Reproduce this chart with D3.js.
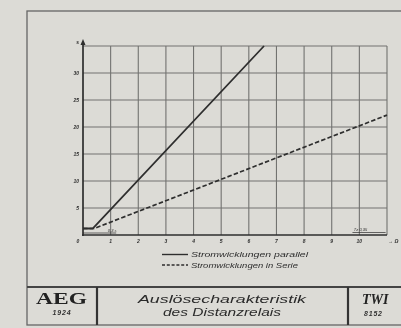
<!DOCTYPE html>
<html>
<head>
<meta charset="utf-8">
<script src="https://cdn.jsdelivr.net/npm/d3@7"></script>
<style>
  html, body { margin: 0; padding: 0; background: #dcdbd6; }
  svg { display: block; filter: blur(0.45px); }
</style>
</head>
<body>
<svg id="chart" width="401" height="328"></svg>
<script>
const xTicks = [1, 2, 3, 4, 5, 6, 7, 8, 9, 10];
const yTicks = [5, 10, 15, 20, 25, 30];
const xMax = 11;
const yMax = 35;
const xUnit = "Ω";
const yUnit = "s";

// Kennlinien: [Ohm, Sekunden]
const parallel = [[0, 1.2], [0.35, 1.2], [6.55, 35]];
const serie = [[0, 1.2], [0.4, 1.2], [11, 22.2]];

const legendLabels = ["Stromwicklungen parallel", "Stromwicklungen in Serie"];
const legendWidths = [117, 107];
const titleLines = ["Auslösecharakteristik", "des Distanzrelais"];
const titleWidths = [168, 118];

const svg = d3.select("#chart");
const ink = "#2e2e2e";
const grid = "#727270";

// Rahmen der Zeichnung
svg.append("rect")
  .attr("x", 27).attr("y", 11)
  .attr("width", 400).attr("height", 314)
  .attr("fill", "none").attr("stroke", "#666").attr("stroke-width", 1.3);

const x = d3.scaleLinear().domain([0, xMax]).range([83, 387]);
const y = d3.scaleLinear().domain([0, yMax]).range([235, 46]);

// Gitter
const g = svg.append("g");
g.selectAll("line.v")
  .data(d3.range(1, xMax + 1))
  .enter().append("line")
  .attr("x1", d => x(d)).attr("x2", d => x(d))
  .attr("y1", y(0)).attr("y2", y(yMax))
  .attr("stroke", grid).attr("stroke-width", 1.1);

g.selectAll("line.h")
  .data(d3.range(5, yMax + 1, 5))
  .enter().append("line")
  .attr("x1", x(0)).attr("x2", x(xMax))
  .attr("y1", d => y(d)).attr("y2", d => y(d))
  .attr("stroke", grid).attr("stroke-width", 1.1);

// Achsen
g.append("line")
  .attr("x1", x(0)).attr("x2", x(0))
  .attr("y1", y(0) + 1).attr("y2", y(yMax) - 2)
  .attr("stroke", ink).attr("stroke-width", 1.7);
g.append("line")
  .attr("x1", x(0) - 1).attr("x2", x(xMax))
  .attr("y1", y(0)).attr("y2", y(0))
  .attr("stroke", ink).attr("stroke-width", 1.7);
// Pfeil oben an der y-Achse
g.append("path")
  .attr("d", `M${x(0) - 2.5},${y(yMax) - 1} L${x(0)},${y(yMax) - 7} L${x(0) + 2.5},${y(yMax) - 1} Z`)
  .attr("fill", ink);

const tickFont = "bold italic 5px 'Liberation Sans', sans-serif";

// x-Beschriftung
g.selectAll("text.xt")
  .data(xTicks)
  .enter().append("text")
  .attr("x", d => x(d)).attr("y", y(0) + 8)
  .attr("text-anchor", "middle")
  .style("font", tickFont).attr("fill", ink)
  .text(d => d);
g.append("text")
  .attr("x", x(0) - 5).attr("y", y(0) + 8)
  .attr("text-anchor", "middle")
  .style("font", tickFont).attr("fill", ink).text("0");
g.append("text")
  .attr("x", x(xMax) + 1).attr("y", y(0) + 8)
  .style("font", tickFont).attr("fill", ink).text("→ " + xUnit);

// y-Beschriftung
g.selectAll("text.yt")
  .data(yTicks)
  .enter().append("text")
  .attr("x", x(0) - 4).attr("y", d => y(d) + 2)
  .attr("text-anchor", "end")
  .style("font", tickFont).attr("fill", ink)
  .text(d => d);
g.append("text")
  .attr("x", x(0) - 4).attr("y", y(yMax) - 2)
  .attr("text-anchor", "end")
  .style("font", tickFont).attr("fill", ink).text(yUnit);

// kleine Vermerke über der x-Achse
g.append("text")
  .attr("x", x(0.9)).attr("y", y(0) - 3)
  .style("font", "italic 4px 'Liberation Sans', sans-serif").attr("fill", ink)
  .text("0,3 s");
g.append("line")
  .attr("x1", x(0)).attr("x2", x(1.2))
  .attr("y1", y(0) - 2).attr("y2", y(0) - 2)
  .attr("stroke", ink).attr("stroke-width", 0.7);
g.append("text")
  .attr("x", x(9.8)).attr("y", y(0) - 4)
  .style("font", "italic 4px 'Liberation Sans', sans-serif").attr("fill", ink)
  .text("Tz 0,35");
g.append("line")
  .attr("x1", x(9.75)).attr("x2", x(10.95))
  .attr("y1", y(0) - 2.5).attr("y2", y(0) - 2.5)
  .attr("stroke", ink).attr("stroke-width", 0.7);

// Kennlinien
const line = d3.line().x(d => x(d[0])).y(d => y(d[1]));
g.append("path")
  .datum(parallel)
  .attr("d", line)
  .attr("fill", "none").attr("stroke", ink).attr("stroke-width", 1.8);
g.append("path")
  .datum(serie)
  .attr("d", line)
  .attr("fill", "none").attr("stroke", ink).attr("stroke-width", 1.7)
  .attr("stroke-dasharray", "4.5,2.2");

// Legende
const leg = svg.append("g");
legendLabels.forEach((lab, i) => {
  const ly = 257 + i * 10.5;
  leg.append("line")
    .attr("x1", 162).attr("x2", 188)
    .attr("y1", ly - 2.5).attr("y2", ly - 2.5)
    .attr("stroke", ink).attr("stroke-width", 1.4)
    .attr("stroke-dasharray", i === 1 ? "3,1.8" : null);
  leg.append("text")
    .attr("x", 191).attr("y", ly)
    .attr("textLength", legendWidths[i]).attr("lengthAdjust", "spacingAndGlyphs")
    .style("font", "italic 7.5px 'Liberation Sans', sans-serif")
    .attr("fill", ink).text(lab);
});

// Schriftfeld
const tb = svg.append("g");
tb.append("line")
  .attr("x1", 27).attr("x2", 401).attr("y1", 287).attr("y2", 287)
  .attr("stroke", "#444").attr("stroke-width", 1.8);
[97, 348].forEach(px => {
  tb.append("line")
    .attr("x1", px).attr("x2", px).attr("y1", 287).attr("y2", 325)
    .attr("stroke", "#333").attr("stroke-width", 2.2);
});
tb.append("text")
  .attr("x", 36).attr("y", 304)
  .attr("textLength", 51).attr("lengthAdjust", "spacingAndGlyphs")
  .style("font", "bold 16px 'Liberation Serif', serif")
  .attr("fill", "#222").text("AEG");
tb.append("text")
  .attr("x", 62).attr("y", 315)
  .attr("text-anchor", "middle")
  .style("font", "bold italic 7px 'Liberation Sans', sans-serif")
  .attr("letter-spacing", 0.8)
  .attr("fill", "#333").text("1924");
titleLines.forEach((t, i) => {
  tb.append("text")
    .attr("x", 222 - titleWidths[i] / 2).attr("y", 303 + i * 13)
    .attr("textLength", titleWidths[i]).attr("lengthAdjust", "spacingAndGlyphs")
    .style("font", "italic 10px 'Liberation Sans', sans-serif")
    .attr("fill", "#2a2a2a").text(t);
});
tb.append("text")
  .attr("x", 362).attr("y", 304)
  .style("font", "bold italic 14px 'Liberation Serif', serif")
  .attr("fill", "#222").text("TWI");
tb.append("text")
  .attr("x", 364).attr("y", 316)
  .style("font", "bold italic 7px 'Liberation Sans', sans-serif")
  .attr("letter-spacing", 0.8)
  .attr("fill", "#333").text("8152");
</script>
</body>
</html>
